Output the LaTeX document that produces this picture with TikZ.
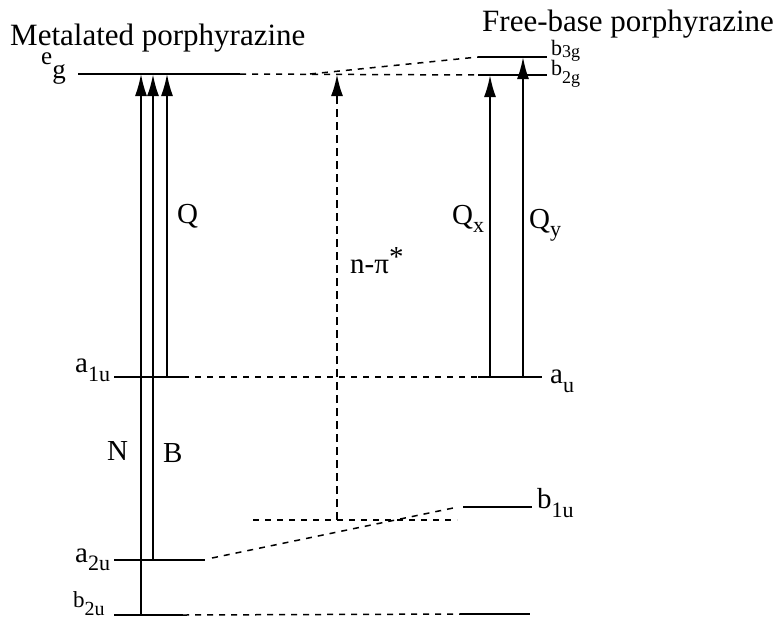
\documentclass[tikz,border=0pt]{standalone}
\usepackage{fontspec}
\setmainfont{Liberation Serif}
\usetikzlibrary{arrows.meta}
\newcommand\fsz[1]{\fontsize{#1}{#1}\selectfont}
\newcommand\lbsub[3]{\raisebox{-#1}{\fsz{#2}#3}}
\begin{document}
\begin{tikzpicture}[x=1pt,y=-1pt,
  lev/.style={line width=2pt},
  dlev/.style={line width=1.5pt, dash pattern=on 6pt off 6pt},
  trans/.style={line width=1.6pt,-{Latex[length=22pt,width=12pt]}},
  dtrans/.style={line width=2.4pt, dash pattern=on 8pt off 5pt,-{Latex[length=22pt,width=12pt]}},
  txt/.style={font=\fsz{29}, inner sep=0pt, anchor=base west},
  ttl/.style={font=\fsz{31}, inner sep=0pt, anchor=base west}]
\useasboundingbox (0,0) rectangle (778,619);
\fill[white] (0,0) rectangle (778,619);

% titles
\node[ttl] (t1) at (10,45) {Metalated porphyrazine};
\node[ttl] (t2) at (482,31) {Free-base porphyrazine};

% level endpoints (metalated)
\coordinate (egL) at (78,74);   \coordinate (egR) at (240,74);
\coordinate (a1uL) at (114,377); \coordinate (a1uR) at (183,377);
\coordinate (a2uL) at (114,560); \coordinate (a2uR) at (205,560);
\coordinate (b2uL) at (114,615); \coordinate (b2uR) at (183,615);
% free-base
\coordinate (b3gL) at (478,57); \coordinate (b3gR) at (547,57);
\coordinate (b2gL) at (478,75); \coordinate (b2gR) at (547,75);
\coordinate (auL) at (478,377); \coordinate (auR) at (542,377);
\coordinate (b1uL) at (463,507); \coordinate (b1uR) at (532,507);
\coordinate (fbL) at (460,614); \coordinate (fbR) at (530,614);
% n level
\coordinate (nL) at (253,520); \coordinate (nR) at (457,520);
\coordinate (split) at (310,74);
\coordinate (slA) at (212,558); \coordinate (slB) at (458,507);

% solid levels
\draw[lev] (egL) -- (egR);
\draw[lev] (a1uL) -- (a1uR);
\draw[lev] (a2uL) -- (a2uR);
\draw[lev] (b2uL) -- (b2uR);
\draw[lev] (b3gL) -- (b3gR);
\draw[lev] (b2gL) -- (b2gR);
\draw[lev] (auL) -- (auR);
\draw[lev] (b1uL) -- (b1uR);
\draw[lev] (fbL) -- (fbR);

% dashed correlation lines
\draw[dlev] (egR) -- (b2gL);
\draw[dlev] (split) -- (b3gL);
\draw[dlev] (a1uR) -- (auL);
\draw[dlev] (b2uR) -- (fbL);
\draw[dlev] (nL) -- (nR);
\draw[dlev] (slA) -- (slB);

% transitions (metalated)
\coordinate (Nb) at (141,615); \coordinate (Nt) at (141,74);
\coordinate (Bb) at (153,560); \coordinate (Bt) at (153,74);
\coordinate (Qb) at (167,377); \coordinate (Qt) at (167,74);
\draw[trans] (Nb) -- (Nt);
\draw[trans, line width=2.4pt] (Bb) -- (Bt);
\draw[trans] (Qb) -- (Qt);
% n-pi*
\coordinate (npb) at (337,520); \coordinate (npt) at (337,74);
\draw[dtrans] (npb) -- (npt);
% free-base
\coordinate (Qxb) at (490,377); \coordinate (Qxt) at (490,75);
\coordinate (Qyb) at (523,377); \coordinate (Qyt) at (523,57);
\draw[trans, line width=2pt] (Qxb) -- (Qxt);
\draw[trans, line width=2pt] (Qyb) -- (Qyt);

% level labels
\node[txt, font=\fsz{25}] (leg) at (41,64) {\smash{e}\lbsub{14pt}{27}{g}};
\node[txt] (la1u) at (75,372) {a\lbsub{9pt}{22}{1u}};
\node[txt] (la2u) at (75,562) {a\lbsub{8pt}{22}{2u}};
\node[txt, font=\fsz{23}] (lb2u) at (73,607) {b\lbsub{8pt}{20}{2u}};
\node[txt] (lb1u) at (537,508) {b\lbsub{9pt}{22}{1u}};
\node[txt, font=\fsz{22}] (lb3g) at (551,55) {b\lbsub{2pt}{18}{3g}};
\node[txt, font=\fsz{22}] (lb2g) at (551,75) {\smash{b}\lbsub{8pt}{18}{2g}};
\node[txt] (lau) at (550,383) {a\lbsub{9pt}{22}{u}};

% transition labels
\node[txt] (lQ) at (177,223) {Q};
\node[txt] (lN) at (107,460) {N};
\node[txt] (lB) at (163,462) {B};
\node[txt] (lQx) at (452,224) {Q\lbsub{8pt}{22}{x}};
\node[txt] (lQy) at (529,228) {Q\lbsub{8pt}{22}{y}};
\node[txt] (lnp) at (350,273) {n-π\raisebox{7pt}{*}};
\end{tikzpicture}
\end{document}
